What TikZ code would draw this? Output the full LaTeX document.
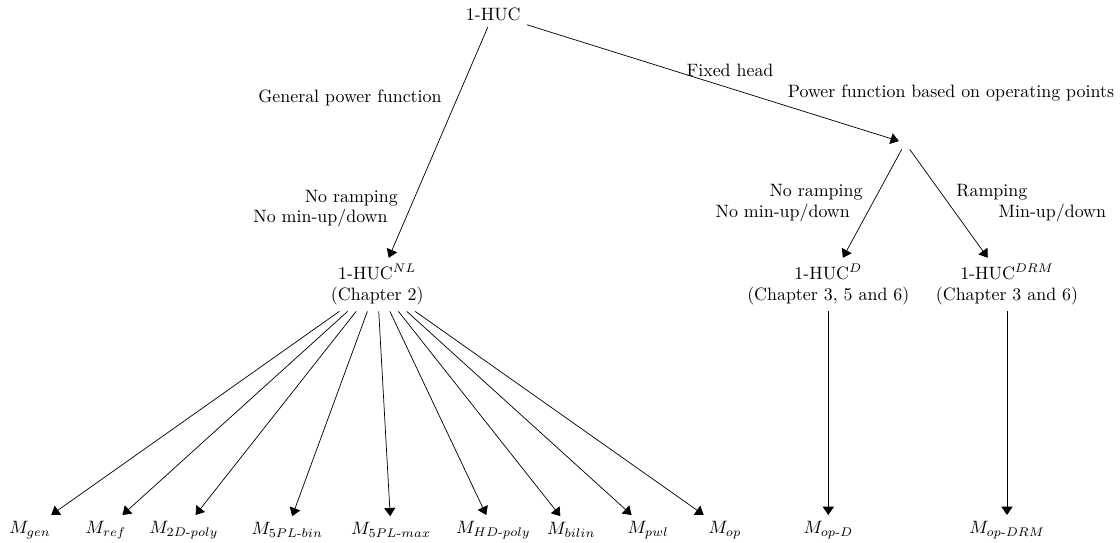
\documentclass[tikz,border=0pt]{standalone}
\usepackage{amsmath}
\usetikzlibrary{arrows.meta}

\begin{document}
\begin{tikzpicture}[>={Triangle[length=4.6pt,width=6.2pt]}] % Filled tips as in the tree

    % Styles for models, edge labels and arrows
    \tikzset{model/.style={align=center}}
    \tikzset{lbl/.style={inner sep=0pt}}
    \tikzset{arr/.style={thin, ->}}

    \useasboundingbox (0,0) rectangle (22.0,-10.66);

    % Root and the branching point for a fixed head
    \node[model] (huc) at (9.69,-0.28) {1-HUC};
    \node[model] (fix) at (17.78,-2.81) {};

    % Second level models
    \node[model] (nl)  at (7.41,-5.59)  {1-HUC$^{NL}$\\(Chapter 2)};
    \node[model] (d)   at (16.27,-5.59) {1-HUC$^{D}$\\(Chapter 3, 5 and 6)};
    \node[model] (drm) at (19.78,-5.59) {1-HUC$^{DRM}$\\(Chapter 3 and 6)};

    % Leaves (formulations)
    \node (mgen)   at (0.59,-10.41)  {$M_{gen}$};
    \node (mref)   at (2.08,-10.41)  {$M_{ref}$};
    \node (m2d)    at (3.61,-10.41)  {$M_{2D\text{-}poly}$};
    \node (mbin)   at (5.64,-10.41)  {$M_{5PL\text{-}bin}$};
    \node (mmax)   at (7.68,-10.41)  {$M_{5PL\text{-}max}$};
    \node (mhd)    at (9.69,-10.41)  {$M_{HD\text{-}poly}$};
    \node (mbilin) at (11.22,-10.41) {$M_{bilin}$};
    \node (mpwl)   at (12.73,-10.41) {$M_{pwl}$};
    \node (mop)    at (14.24,-10.41) {$M_{op}$};
    \node (mopd)   at (16.27,-10.41) {$M_{op\text{-}D}$};
    \node (mopdrm) at (19.78,-10.41) {$M_{op\text{-}DRM}$};

    % Edge labels
    \node[lbl, anchor=east] (lgen)  at (8.68,-1.93)  {General power function};
    \node[lbl, anchor=east] (lnr1)  at (7.82,-3.89)  {No ramping};
    \node[lbl, anchor=east] (lnm1)  at (7.62,-4.28)  {No min-up/down};
    \node[lbl] (lfix) at (14.34,-1.39) {Fixed head};
    \node[lbl] (lop)  at (18.68,-1.83) {Power function based on operating points};
    \node[lbl, anchor=east] (lnr2)  at (16.95,-3.77) {No ramping};
    \node[lbl, anchor=east] (lnm2)  at (16.70,-4.18) {No min-up/down};
    \node[lbl, anchor=west] (lr)    at (18.78,-3.77) {Ramping};
    \node[lbl, anchor=west] (lm)    at (19.61,-4.18) {Min-up/down};

    % Connections of the tree
    \draw[arr] (huc) -- (nl);
    \draw[arr] (huc) -- (fix);
    \draw[arr] (fix) -- (d);
    \draw[arr] (fix) -- (drm);

    % From the general model to its formulations
    \draw[arr] (nl) -- (mgen);
    \draw[arr] (nl) -- (mref);
    \draw[arr] (nl) -- (m2d);
    \draw[arr] (nl) -- (mbin);
    \draw[arr] (nl) -- (mmax);
    \draw[arr] (nl) -- (mhd);
    \draw[arr] (nl) -- (mbilin);
    \draw[arr] (nl) -- (mpwl);
    \draw[arr] (nl) -- (mop);

    % Operating point models
    \draw[arr] (d) -- (mopd);
    \draw[arr] (drm) -- (mopdrm);

\end{tikzpicture}
\end{document}
